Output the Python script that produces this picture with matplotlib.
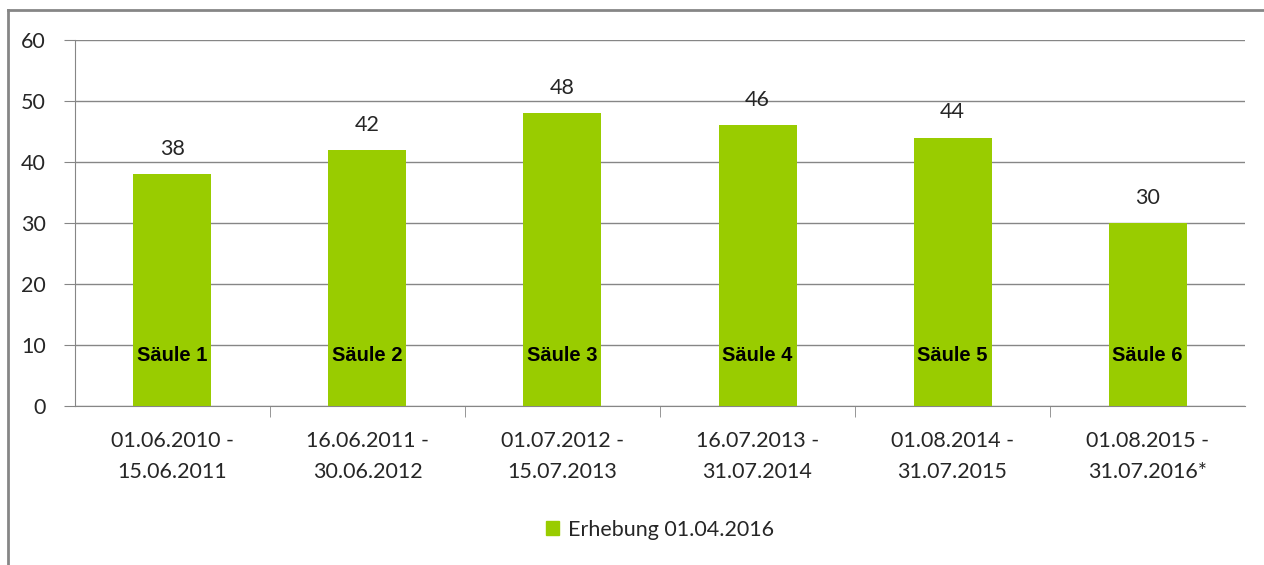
import matplotlib.pyplot as plt
from matplotlib.lines import Line2D
from matplotlib.patches import Patch

# data
zeitraeume = ["01.06.2010 -\n15.06.2011", "16.06.2011 -\n30.06.2012", "01.07.2012 -\n15.07.2013",
              "16.07.2013 -\n31.07.2014", "01.08.2014 -\n31.07.2015", "01.08.2015 -\n31.07.2016*"]
werte = [38, 42, 48, 46, 44, 30]
saeulen = ["Säule 1", "Säule 2", "Säule 3", "Säule 4", "Säule 5", "Säule 6"]
legende = "Erhebung 01.04.2016"

gruen = "#99CC00"
grau = "#868686"
text_farbe = "#262626"

plt.rcParams['font.family'] = ['Lato', 'DejaVu Sans']

fig = plt.figure(figsize=(12.64, 5.65), dpi=100)
ax = fig.add_axes([0.0593, 0.2814, 0.9257, 0.6478])

x = list(range(len(werte)))
bars = ax.bar(x, werte, width=0.4, color=gruen, zorder=3)

ax.set_xlim(-0.5, len(werte) - 0.5)
ax.set_ylim(0, 60)
ax.set_yticks(range(0, 61, 10))
ax.yaxis.grid(True, color=grau, linewidth=1, zorder=0)

for s in ["top", "right"]:
    ax.spines[s].set_visible(False)
for s in ["left", "bottom"]:
    ax.spines[s].set_color(grau)

ax.tick_params(axis="y", length=8, color=grau, labelsize=15.5, labelcolor=text_farbe, pad=13)
ax.set_xticks(x)
ax.set_xticklabels(zeitraeume, fontsize=15.5, color=text_farbe, linespacing=1.7)
ax.tick_params(axis="x", length=0, pad=18)
# Teilstriche zwischen den Kategorien
ax.set_xticks([i + 0.5 for i in x[:-1]], minor=True)
ax.tick_params(axis="x", which="minor", length=8, color=grau)

for b, w, name in zip(bars, werte, saeulen):
    cx = b.get_x() + b.get_width() / 2
    ax.annotate(str(w), (cx, w), xytext=(0, 11), textcoords="offset points",
                ha="center", va="bottom", fontsize=15.5, color=text_farbe)
    ax.text(cx, 8.3, name, ha="center", va="center", fontsize=14.5,
            fontweight="bold", family="Liberation Sans", color="black", zorder=4)

ax.legend([Patch(color=gruen)], [legende], loc="center", bbox_to_anchor=(0.5, -0.338),
          frameon=False, fontsize=15.5, handlelength=0.6, handleheight=0.6,
          handletextpad=0.4, labelcolor=text_farbe)

# Rahmen oben und links
fig.add_artist(Line2D([8 / 1264, 8 / 1264], [0, 1 - 10 / 565], transform=fig.transFigure,
                      color=grau, linewidth=2))
fig.add_artist(Line2D([8 / 1264, 1], [1 - 10 / 565, 1 - 10 / 565], transform=fig.transFigure,
                      color=grau, linewidth=2))

fig.savefig("out.png", dpi=100)
